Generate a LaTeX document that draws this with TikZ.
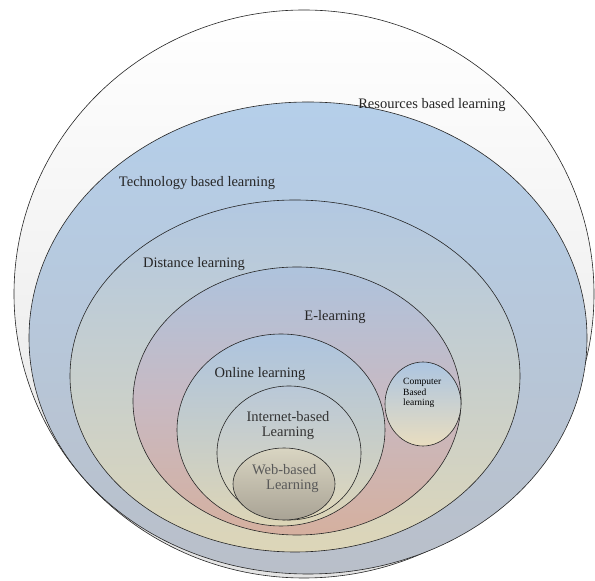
\documentclass[tikz,border=0pt]{standalone}
\usepackage{fontspec}
\setmainfont{Liberation Serif}
\definecolor{outerbot}{HTML}{E4E4E4}
\definecolor{techtop}{HTML}{B5CFEA}
\definecolor{techbot}{HTML}{B9BFC9}
\definecolor{disttop}{HTML}{B2C8E2}
\definecolor{distbot}{HTML}{DDD6B8}
\definecolor{eltop}{HTML}{AEC3DD}
\definecolor{elmid}{HTML}{C8B9C2}
\definecolor{elbot}{HTML}{D5B09F}
\definecolor{onltop}{HTML}{ADC4DF}
\definecolor{onlbot}{HTML}{DDD5B6}
\definecolor{inttop}{HTML}{B9C8D8}
\definecolor{intbot}{HTML}{E0D8B9}
\definecolor{webtop}{HTML}{D9D5C2}
\definecolor{webbot}{HTML}{A9A395}
\definecolor{comptop}{HTML}{ACC5E1}
\definecolor{compbot}{HTML}{E9DDBF}

\tikzset{
  ring/.style={draw=black!85, line width=0.6pt},
  lbl/.style={inner sep=0pt, font=\fontsize{14.5}{15}\selectfont, text=black!85}
}

\begin{document}
\begin{tikzpicture}[x=1pt, y=1pt]
    \useasboundingbox (0,0) rectangle (595,581);
    \begin{scope}
      \shade[ring, top color=white, bottom color=outerbot] (304,287) ellipse [x radius=290, y radius=284];
      \shade[ring, top color=techtop, bottom color=techbot] (308,243) ellipse [x radius=279, y radius=236];
      \shade[ring, top color=disttop, bottom color=distbot] (295,205) ellipse [x radius=225, y radius=176];
      \shade[ring, top color=eltop, bottom color=elbot, middle color=elmid] (297,180) ellipse [x radius=164, y radius=134];
      \shade[ring, top color=onltop, bottom color=onlbot] (281,151) ellipse [x radius=104, y radius=96];
      \shade[ring, top color=inttop, bottom color=intbot] (289,128) ellipse [x radius=72, y radius=67];
      \shade[ring, top color=webtop, bottom color=webbot] (284,97) ellipse [x radius=51, y radius=36];
      \shade[ring, top color=comptop, bottom color=compbot] (423,177) ellipse [x radius=38, y radius=42];
      % labels
      \node[lbl] (resources) at (432,476) {Resources based learning};
      \node[lbl] (technology) at (197,398) {Technology based learning};
      \node[lbl] (distance) at (194,317) {Distance learning};
      \node[lbl] (elearning) at (335,264) {E-learning};
      \node[lbl] (online) at (260,207) {Online learning};
      \node[lbl, align=center, text=black!80] (internet) at (288,155) {Internet-based\\Learning};
      \node[lbl, align=left, anchor=west, text=black!65] (web) at (252,102) {Web-based\\\hspace{14pt}Learning};
      \node[inner sep=0pt, align=left, anchor=west, font=\fontsize{9.5}{10.5}\selectfont] (computer) at (403,188) {Computer\\Based\\learning};
    \end{scope}
  \end{tikzpicture}
\end{document}
